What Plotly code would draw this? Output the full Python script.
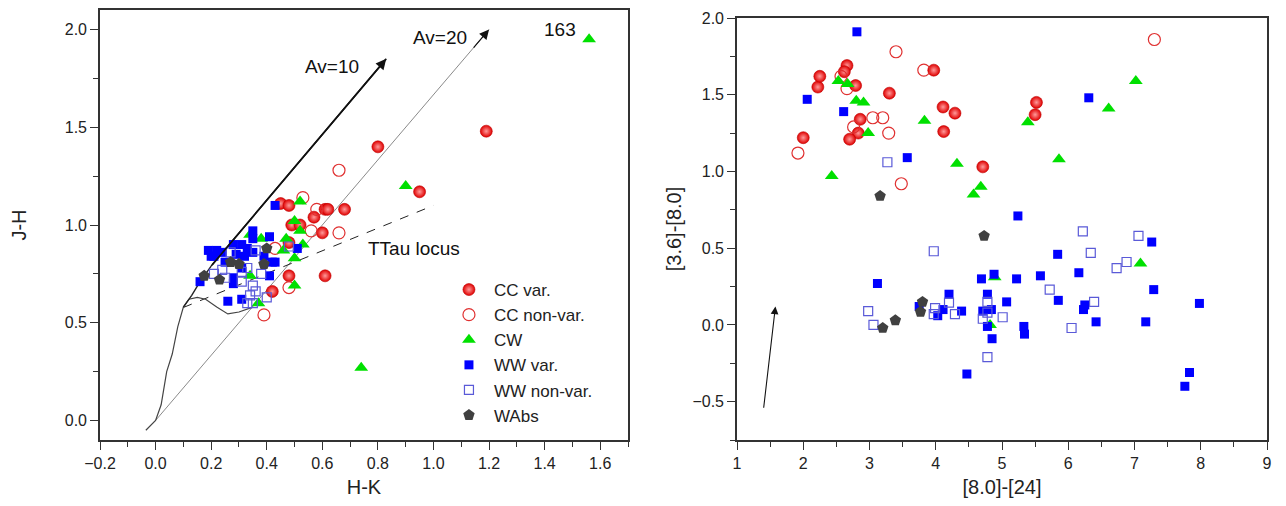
import plotly.graph_objects as go

# ---------------- Left panel: J-H vs H-K ----------------
cc_var_hk = [1.19, 0.80, 0.95, 0.68, 0.61, 0.62, 0.57, 0.60, 0.61, 0.48, 0.42, 0.45, 0.48, 0.49, 0.52, 0.48]
cc_var_jh = [1.48, 1.40, 1.17, 1.08, 1.08, 1.08, 1.04, 0.96, 0.74, 0.74, 0.66, 1.11, 1.10, 1.00, 1.00, 0.91]

cc_non_hk = [0.66, 0.53, 0.58, 0.56, 0.66, 0.48, 0.39, 0.43]
cc_non_jh = [1.28, 1.14, 1.08, 0.97, 0.96, 0.68, 0.54, 0.88]

cw_hk = [1.56, 0.90, 0.74, 0.52, 0.50, 0.52, 0.47, 0.53, 0.46, 0.50, 0.50, 0.34, 0.38, 0.34, 0.37]
cw_jh = [1.95, 1.20, 0.27, 1.12, 1.02, 0.97, 0.93, 0.90, 0.87, 0.83, 0.69, 0.95, 0.93, 0.74, 0.60]

ww_var_hk = [0.43, 0.35, 0.41, 0.35, 0.19, 0.22, 0.28, 0.31, 0.33, 0.29, 0.32, 0.35, 0.51,
             0.43, 0.16, 0.26, 0.31, 0.41, 0.28, 0.28, 0.31, 0.21, 0.25, 0.39, 0.42, 0.20, 0.24]
ww_var_jh = [1.10, 0.97, 0.94, 0.93, 0.87, 0.87, 0.90, 0.90, 0.88, 0.85, 0.84, 0.86, 0.88,
             0.81, 0.71, 0.61, 0.62, 0.74, 0.73, 0.70, 0.78, 0.84, 0.81, 0.84, 0.81, 0.84, 0.86]

ww_non_hk = [0.27, 0.24, 0.21, 0.31, 0.33, 0.38, 0.31, 0.35, 0.36, 0.34, 0.33, 0.35, 0.40, 0.48, 0.36, 0.25]
ww_non_jh = [0.86, 0.77, 0.75, 0.76, 0.78, 0.75, 0.71, 0.69, 0.66, 0.64, 0.60, 0.60, 0.63, 0.89, 0.87, 0.73]

wabs_hk = [0.175, 0.23, 0.27, 0.30, 0.39, 0.40]
wabs_jh = [0.74, 0.72, 0.81, 0.80, 0.80, 0.88]

# loci and reddening vectors
dwarf_hk = [-0.035, 0.0, 0.02, 0.04, 0.06, 0.08, 0.10, 0.12, 0.15, 0.18, 0.22, 0.26, 0.30, 0.35]
dwarf_jh = [-0.05, 0.0, 0.08, 0.25, 0.34, 0.48, 0.58, 0.62, 0.63, 0.62, 0.58, 0.545, 0.555, 0.58]
giant_hk = [0.10, 0.13, 0.16, 0.20]
giant_jh = [0.58, 0.64, 0.71, 0.79]
ttau_hk = [0.10, 1.00]
ttau_jh = [0.578, 1.10]
av10_hk = [0.20, 0.83]
av10_jh = [0.79, 1.85]
av20_hk = [0.0, 1.20]
av20_jh = [0.0, 2.00]

# ---------------- Right panel: [3.6]-[8.0] vs [8.0]-[24] ----------------
r_cc_var_x = [2.00, 2.22, 2.25, 2.66, 2.62, 2.79, 2.86, 2.83, 2.70, 3.30, 3.97, 4.11, 4.29, 4.12, 4.71, 5.52, 5.50]
r_cc_var_y = [1.22, 1.55, 1.62, 1.69, 1.65, 1.56, 1.34, 1.25, 1.21, 1.51, 1.66, 1.42, 1.38, 1.26, 1.03, 1.45, 1.37]

r_cc_non_x = [1.92, 2.57, 2.66, 2.76, 3.05, 3.20, 3.29, 3.40, 3.82, 3.48, 7.30]
r_cc_non_y = [1.12, 1.62, 1.54, 1.29, 1.35, 1.35, 1.25, 1.78, 1.66, 0.92, 1.86]

r_cw_x = [2.53, 2.67, 2.80, 2.91, 2.98, 2.43, 3.83, 4.32, 4.57, 4.68, 5.39, 5.86, 6.61, 7.02, 7.09, 4.89, 4.82]
r_cw_y = [1.59, 1.57, 1.46, 1.45, 1.25, 0.97, 1.33, 1.05, 0.85, 0.90, 1.32, 1.08, 1.41, 1.59, 0.40, 0.31, 0.00]

r_ww_var_x = [2.81, 2.06, 2.61, 3.57, 6.31, 5.24, 3.12, 5.84, 7.26, 7.29, 7.98, 7.17, 7.83, 7.76, 4.47,
              4.69, 4.88, 5.22, 5.58, 6.16, 5.85, 6.25, 6.23, 6.42, 5.07, 4.78, 4.20, 4.39, 4.11, 4.03,
              3.75, 4.71, 4.84, 4.78, 4.85, 5.33, 5.34]
r_ww_var_y = [1.91, 1.47, 1.39, 1.09, 1.48, 0.71, 0.27, 0.46, 0.54, 0.23, 0.14, 0.02, -0.31, -0.40, -0.32,
              0.30, 0.33, 0.30, 0.32, 0.34, 0.16, 0.13, 0.10, 0.02, 0.15, 0.20, 0.20, 0.09, 0.10, 0.06,
              0.12, 0.09, 0.10, -0.01, -0.09, -0.01, -0.06]

r_ww_non_x = [3.27, 3.97, 2.98, 3.06, 3.99, 3.97, 4.20, 4.29, 4.78, 4.78, 4.71, 5.01, 4.78,
              5.72, 6.05, 6.22, 6.34, 6.39, 6.73, 6.88, 7.06]
r_ww_non_y = [1.06, 0.48, 0.09, 0.00, 0.11, 0.07, 0.145, 0.07, 0.15, 0.08, 0.04, 0.05, -0.21,
              0.23, -0.02, 0.61, 0.47, 0.15, 0.37, 0.41, 0.58]

r_wabs_x = [3.16, 4.73, 3.20, 3.39, 3.80, 3.77]
r_wabs_y = [0.84, 0.58, -0.02, 0.03, 0.15, 0.085]

r_arrow_x = [1.40, 1.58]
r_arrow_y = [-0.55, 0.12]

r_yticks = [-0.5, 0.0, 0.5, 1.0, 1.5, 2.0]

FONT = "Liberation Sans, Arial, sans-serif"
GREEN = "#00e000"
BLUE = "#0000ff"
OPENBLUE = "#5a5ad8"
GREY = "#404040"

fig = go.Figure()

def add_sets(xs, ys, xa, ya, show):
    (cv_x, cv_y), (cn_x, cn_y), (cw_x, cw_y), (wv_x, wv_y), (wn_x, wn_y), (wa_x, wa_y) = zip(xs, ys)
    fig.add_trace(go.Scatter(x=cv_x, y=cv_y, mode="markers", name="CC var.", legendgroup="a",
                             showlegend=show, xaxis=xa, yaxis=ya,
                             marker=dict(symbol="circle", size=12, color="#e00000",
                                         gradient=dict(type="radial", color="#ff9a9a"),
                                         line=dict(color="#c00000", width=0.6))))
    fig.add_trace(go.Scatter(x=cn_x, y=cn_y, mode="markers", name="CC non-var.", legendgroup="b",
                             showlegend=show, xaxis=xa, yaxis=ya,
                             marker=dict(symbol="circle-open", size=12, color="#e03030",
                                         line=dict(width=1.2))))
    fig.add_trace(go.Scatter(x=cw_x, y=cw_y, mode="markers", name="CW", legendgroup="c",
                             showlegend=show, xaxis=xa, yaxis=ya,
                             marker=dict(symbol="triangle-up", size=12, color=GREEN,
                                         line=dict(width=0))))
    fig.add_trace(go.Scatter(x=wv_x, y=wv_y, mode="markers", name="WW var.", legendgroup="d",
                             showlegend=show, xaxis=xa, yaxis=ya,
                             marker=dict(symbol="square", size=9, color=BLUE, line=dict(width=0))))
    fig.add_trace(go.Scatter(x=wn_x, y=wn_y, mode="markers", name="WW non-var.", legendgroup="e",
                             showlegend=show, xaxis=xa, yaxis=ya,
                             marker=dict(symbol="square-open", size=9, color=OPENBLUE,
                                         line=dict(width=1.2))))
    fig.add_trace(go.Scatter(x=wa_x, y=wa_y, mode="markers", name="WAbs", legendgroup="f",
                             showlegend=show, xaxis=xa, yaxis=ya,
                             marker=dict(symbol="pentagon", size=12, color=GREY, line=dict(width=0))))

# left-panel lines first (under markers)
fig.add_trace(go.Scatter(x=av20_hk, y=av20_jh, mode="lines", line=dict(color="#8a8a8a", width=1),
                         showlegend=False, hoverinfo="skip", xaxis="x", yaxis="y"))
fig.add_trace(go.Scatter(x=ttau_hk, y=ttau_jh, mode="lines", line=dict(color="#222", width=1, dash="dash"),
                         showlegend=False, hoverinfo="skip", xaxis="x", yaxis="y"))
fig.add_trace(go.Scatter(x=dwarf_hk, y=dwarf_jh, mode="lines", line=dict(color="#444", width=1.2),
                         showlegend=False, hoverinfo="skip", xaxis="x", yaxis="y"))
fig.add_trace(go.Scatter(x=giant_hk, y=giant_jh, mode="lines", line=dict(color="#222", width=1.4),
                         showlegend=False, hoverinfo="skip", xaxis="x", yaxis="y"))
fig.add_trace(go.Scatter(x=av10_hk, y=av10_jh, mode="lines", line=dict(color="#111", width=1.6),
                         showlegend=False, hoverinfo="skip", xaxis="x", yaxis="y"))

add_sets([cc_var_hk, cc_non_hk, cw_hk, ww_var_hk, ww_non_hk, wabs_hk],
         [cc_var_jh, cc_non_jh, cw_jh, ww_var_jh, ww_non_jh, wabs_jh], "x", "y", True)
add_sets([r_cc_var_x, r_cc_non_x, r_cw_x, r_ww_var_x, r_ww_non_x, r_wabs_x],
         [r_cc_var_y, r_cc_non_y, r_cw_y, r_ww_var_y, r_ww_non_y, r_wabs_y], "x2", "y2", False)

annotations = [
    # arrow heads
    dict(x=av10_hk[1], y=av10_jh[1], ax=av10_hk[0], ay=av10_jh[0], xref="x", yref="y",
         axref="x", ayref="y", showarrow=True, arrowhead=2, arrowsize=1.3, arrowwidth=1.6,
         arrowcolor="#111", text=""),
    dict(x=av20_hk[1], y=av20_jh[1], ax=av20_hk[1] - 0.06, ay=av20_jh[1] - 0.1, xref="x", yref="y",
         axref="x", ayref="y", showarrow=True, arrowhead=2, arrowsize=1.6, arrowwidth=1.2,
         arrowcolor="#111", text=""),
    dict(x=r_arrow_x[1], y=r_arrow_y[1], ax=r_arrow_x[0], ay=r_arrow_y[0], xref="x2", yref="y2",
         axref="x2", ayref="y2", showarrow=True, arrowhead=2, arrowsize=1.4, arrowwidth=1.1,
         arrowcolor="#111", text=""),
    dict(x=0.635, y=1.81, xref="x", yref="y", text="Av=10", showarrow=False,
         font=dict(size=19, color="#111", family=FONT)),
    dict(x=1.025, y=1.96, xref="x", yref="y", text="Av=20", showarrow=False,
         font=dict(size=19, color="#111", family=FONT)),
    dict(x=1.455, y=2.0, xref="x", yref="y", text="163", showarrow=False,
         font=dict(size=19, color="#111", family=FONT)),
    dict(x=0.93, y=0.88, xref="x", yref="y", text="TTau locus", showarrow=False,
         font=dict(size=19, color="#111", family=FONT)),
]

MINOR = dict(ticks="outside", ticklen=5, tickwidth=1, tickcolor="#333")
axis_common = dict(showline=True, linecolor="#333", linewidth=1.6, mirror=True, ticks="outside",
                   ticklen=8, tickwidth=1.2, tickcolor="#333", showgrid=False, zeroline=False,
                   automargin=False, ticklabeloverflow="allow",
                   tickfont=dict(size=16, color="#222", family=FONT))
TITLEFONT = dict(size=20, family=FONT, color="#222")

TOP = 1 - 2 / 506
BOTTOM = 1 - 432 / 506

fig.update_layout(
    width=1286, height=506,
    margin=dict(l=0, r=0, t=0, b=0),
    plot_bgcolor="white", paper_bgcolor="white",
    font=dict(family=FONT, color="#222"),
    xaxis=dict(domain=[92 / 1286, 620 / 1286], range=[-0.2, 1.7], dtick=0.2, tickformat=".1f",
               minor=dict(dtick=0.1, **MINOR),
               title=dict(text="H-K", font=TITLEFONT, standoff=9), **axis_common),
    yaxis=dict(domain=[BOTTOM, TOP], range=[-0.1, 2.1], dtick=0.5, tickformat=".1f",
               minor=dict(dtick=0.25, **MINOR),
               title=dict(text="J-H", font=TITLEFONT, standoff=36), **axis_common),
    xaxis2=dict(domain=[729 / 1286, 1259 / 1286], range=[1, 9], dtick=1, anchor="y2",
                minor=dict(dtick=0.5, **MINOR),
                title=dict(text="[8.0]-[24]", font=TITLEFONT, standoff=9), **axis_common),
    yaxis2=dict(domain=[BOTTOM, 1 - 10 / 506], range=[-0.75, 2.0], tickvals=r_yticks,
                tickformat=".1f", anchor="x2", minor=dict(dtick=0.25, **MINOR),
                title=dict(text="[3.6]-[8.0]", font=TITLEFONT, standoff=5), **axis_common),
    legend=dict(x=0.339, y=1 - 264 / 506, xanchor="left", yanchor="top", bgcolor="rgba(0,0,0,0)",
                font=dict(size=17, family=FONT, color="#222"), tracegroupgap=0, itemwidth=40),
    annotations=annotations,
)

fig.write_html("out.html")
